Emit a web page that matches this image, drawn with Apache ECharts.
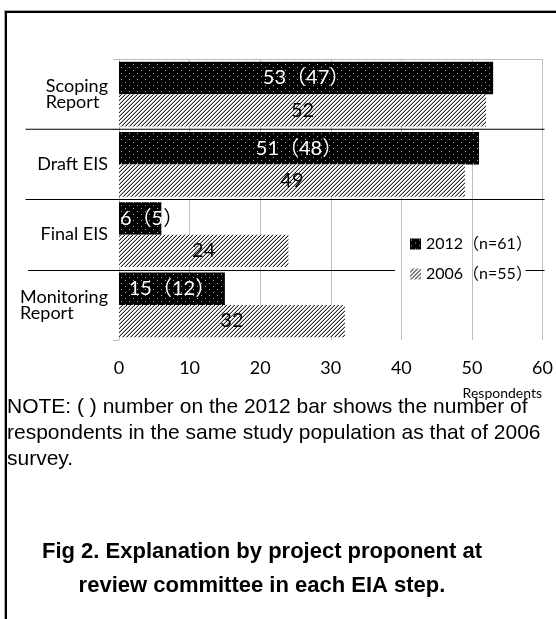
<!DOCTYPE html>
<html>
<head>
<meta charset="utf-8">
<script src="https://cdn.jsdelivr.net/npm/echarts@6/dist/echarts.min.js"></script>
<style>
  html, body { margin: 0; padding: 0; background: #fff; overflow: hidden; }
  #wrap { position: relative; width: 556px; height: 619px; overflow: hidden; }
  #frame {
    position: absolute; left: 5px; top: 11px; width: 600px; height: 700px;
    border-top: 2px solid #000; border-left: 2px solid #000;
    box-shadow: -1px -1px 0 #aaa;
  }
  #chart { position: absolute; left: 0; top: 0; width: 556px; height: 619px; }
</style>
</head>
<body>
<div id="wrap">
  <div id="frame"></div>
  <div id="chart"></div>
</div>
<script>
/* ---------------- DATA ---------------- */

const CATEGORIES = ["Scoping\nReport", "Draft EIS", "Final EIS", "Monitoring\nReport"];

const VALUES_2012 = [53, 51, 6, 15];
// ( ) number: respondents in the same study population as the 2006 survey
const SAME_POP_2012 = [47, 48, 5, 12];
const VALUES_2006 = [52, 49, 24, 32];

const SERIES_NAMES = ["2012（n=61）", "2006（n=55）"];

const X_MIN = 0;
const X_MAX = 60;
const X_STEP = 10;
const X_NAME = "Respondents";

// category boundaries where the black separators sit;
// the last one is broken by the legend
const SEPARATORS_FULL = [1, 2];
const SEPARATORS_SPLIT = [3];

const NOTE_LINES = [
    "NOTE: ( ) number on the 2012 bar shows the number of",
    "respondents in the same study population as that of 2006",
    "survey.",
];
const CAPTION_LINES = [
    "Fig 2. Explanation by project proponent at",
    "review committee in each EIA step.",
];

/* ---------------- PATTERNS ---------------- */

const FONT = 'Lato, "Noto Sans CJK JP", sans-serif';
const ARIAL = '"Liberation Sans", Arial, sans-serif';

function makeTile(w, h, bg, paint) {
    const c = document.createElement("canvas");
    c.width = w;
    c.height = h;
    const ctx = c.getContext("2d");
    ctx.fillStyle = bg;
    ctx.fillRect(0, 0, w, h);
    paint(ctx);
    return c;
}

// black with sparse light dots
const dotTile = makeTile(8, 6, "#000", (ctx) => {
    ctx.fillStyle = "#b0b0b0";
    ctx.fillRect(1, 1, 1, 1);
    ctx.fillRect(5, 4, 1, 1);
});

// white with dense "/" hatching
const hatchTile = makeTile(4, 4, "#fff", (ctx) => {
    for (let x = 0; x < 4; x++) {
        for (let y = 0; y < 4; y++) {
            const k = (x + y) % 4;
            if (k === 3) { ctx.fillStyle = "#262626"; ctx.fillRect(x, y, 1, 1); }
            if (k === 2) { ctx.fillStyle = "#b8b8b8"; ctx.fillRect(x, y, 1, 1); }
        }
    }
});

/* ---------------- CHART ---------------- */

const chart = echarts.init(document.getElementById("chart"), null, { renderer: "canvas" });

// short 2012 bars: label starts at the bar's left edge, closing bracket
// spills onto the white background so it is drawn in black
const data2012 = VALUES_2012.map((v) => (
    v < 10
        ? {
            value: v,
            label: {
                position: "insideLeft",
                distance: 1,
                formatter: (p) => "{w|" + p.value + "（" + SAME_POP_2012[p.dataIndex] + "}{k|）}",
            },
        }
        : v
));

const LABEL_RICH = {
    w: { color: "#fff", fontFamily: FONT, fontSize: 20 },
    k: { color: "#000", fontFamily: FONT, fontSize: 20 },
};

// hidden value axis that only draws separator ticks across the chart
function separatorAxis(position, offset, values, length) {
    return {
        type: "value",
        min: 0,
        max: CATEGORIES.length,
        inverse: true,
        position,
        offset,
        axisLine: { show: false },
        axisLabel: { show: false },
        splitLine: { show: false },
        axisTick: {
            show: true,
            inside: true,
            length,
            customValues: values,
            lineStyle: { color: "#000", width: 1 },
        },
    };
}

const option = {
    animation: false,
    textStyle: { fontFamily: FONT, color: "#000" },

    title: [
        {
            text: NOTE_LINES.join("\n"),
            left: 7,
            top: 394,
            padding: 0,
            textStyle: {
                fontFamily: ARIAL,
                fontSize: 21,
                fontWeight: "normal",
                lineHeight: 26,
                color: "#000",
            },
        },
        {
            text: CAPTION_LINES.join("\n"),
            left: 262,
            top: 535,
            textAlign: "center",
            padding: 0,
            textStyle: {
                fontFamily: ARIAL,
                fontSize: 22,
                fontWeight: "bold",
                lineHeight: 34,
                color: "#000",
            },
        },
        {
            text: X_NAME,
            right: 14,
            top: 385,
            padding: 0,
            textStyle: {
                fontFamily: FONT,
                fontSize: 14,
                fontWeight: "normal",
                lineHeight: 16,
                color: "#000",
            },
        },
    ],

    legend: {
        orient: "vertical",
        left: 410,
        top: 234,
        padding: 0,
        itemWidth: 11,
        itemHeight: 11,
        itemGap: 10,
        icon: "rect",
        textStyle: {
            fontFamily: FONT,
            fontSize: 16,
            lineHeight: 20,
            color: "#000",
        },
        data: SERIES_NAMES,
    },

    grid: {
        left: 119,
        right: 11,
        top: 59,
        bottom: 279,
        containLabel: false,
    },

    xAxis: {
        type: "value",
        min: X_MIN,
        max: X_MAX,
        interval: X_STEP,
        axisLine: { show: true, lineStyle: { color: "#bdbdbd", width: 1 } },
        axisTick: { show: true, length: 6, lineStyle: { color: "#bdbdbd" } },
        axisLabel: { fontFamily: FONT, fontSize: 18, color: "#000", margin: 19 },
        splitLine: { show: true, lineStyle: { color: "#bdbdbd", width: 1 } },
    },

    yAxis: [
        {
            type: "category",
            inverse: true,
            data: CATEGORIES,
            axisLine: { show: true, lineStyle: { color: "#bdbdbd" } },
            axisTick: { show: true, length: 6, lineStyle: { color: "#bdbdbd" } },
            axisLabel: {
                margin: 11,
                formatter: (v) => v.split("\n").map((s) => "{a|" + s + "}").join("\n"),
                rich: {
                    a: { fontFamily: FONT, fontSize: 18, lineHeight: 16, color: "#000", align: "left" },
                },
            },
            splitLine: { show: false },
        },
        // full separators: right edge of the plot back to the label column
        separatorAxis("right", 2, SEPARATORS_FULL, 519),
        // broken separator: label column up to the legend ...
        separatorAxis("left", 91, SEPARATORS_SPLIT, 367),
        // ... and the short piece right of the legend
        separatorAxis("right", 2, SEPARATORS_SPLIT, 19),
    ],

    series: [
        {
            name: SERIES_NAMES[0],
            type: "bar",
            z: 6,
            barGap: "0%",
            barCategoryGap: "8%",
            data: data2012,
            itemStyle: { color: { image: dotTile, repeat: "repeat" } },
            label: {
                show: true,
                position: "inside",
                color: "#fff",
                fontFamily: FONT,
                fontSize: 20,
                rich: LABEL_RICH,
                formatter: (p) => p.value + "（" + SAME_POP_2012[p.dataIndex] + "）",
            },
        },
        {
            name: SERIES_NAMES[1],
            type: "bar",
            z: 6,
            barGap: "0%",
            barCategoryGap: "8%",
            data: VALUES_2006,
            itemStyle: { color: { image: hatchTile, repeat: "repeat" } },
            label: {
                show: true,
                position: "inside",
                color: "#000",
                fontFamily: FONT,
                fontSize: 20,
            },
        },
    ],
};

chart.setOption(option);
window.addEventListener("resize", chart.resize);
</script>
</body>
</html>
